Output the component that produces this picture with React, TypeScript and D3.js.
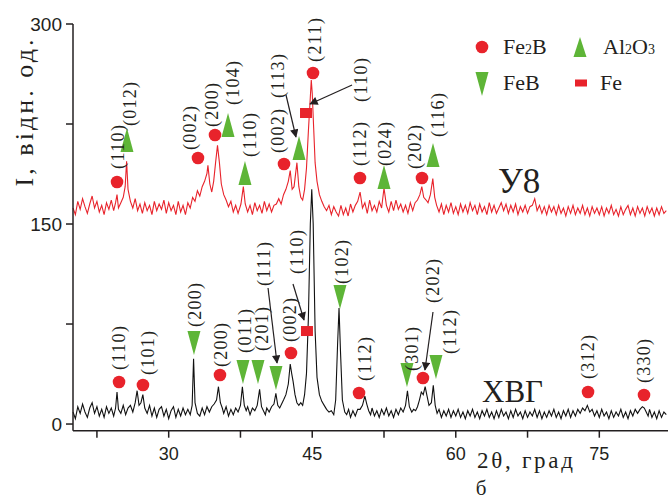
import React from 'react';
import * as d3 from 'd3';

const W = 668;
const H = 501;

// XRD scans: [2θ, I]
const y8Scan: [number, number][] = [
  [20, 162], [20.25, 157], [20.5, 167], [20.75, 161], [21, 169], [21.25, 163], [21.5, 158], [21.75, 165],
  [22, 171], [22.25, 162], [22.5, 167], [22.75, 159], [23, 164], [23.25, 157], [23.5, 166], [23.75, 161],
  [24, 168], [24.25, 160], [24.45, 166], [24.6, 172], [24.75, 162], [25, 166], [25.25, 170], [25.45, 178],
  [25.6, 197], [25.75, 176], [26, 167], [26.25, 162], [26.5, 169], [26.75, 160], [27, 165], [27.25, 158],
  [27.5, 166], [27.75, 160], [28, 164], [28.25, 157], [28.5, 167], [28.75, 160], [29, 165], [29.25, 161],
  [29.5, 168], [29.75, 158], [30, 166], [30.25, 160], [30.5, 164], [30.75, 157], [31, 167], [31.25, 159],
  [31.5, 164], [31.75, 157], [32, 166], [32.25, 162], [32.5, 170], [32.75, 167], [33, 175], [33.25, 171],
  [33.5, 178], [33.75, 182], [34, 188], [34.1, 194], [34.3, 180], [34.5, 174], [34.7, 182], [34.9, 196],
  [35.1, 209], [35.3, 196], [35.5, 180], [35.75, 172], [36, 168], [36.25, 163], [36.5, 167], [36.75, 159],
  [37, 164], [37.25, 158], [37.55, 165], [37.8, 178], [38, 165], [38.25, 159], [38.5, 164], [38.75, 157],
  [39, 166], [39.25, 160], [39.5, 164], [39.75, 158], [40, 167], [40.25, 160], [40.5, 165], [40.75, 159],
  [41, 164], [41.25, 165], [41.5, 169], [41.75, 165], [42, 172], [42.25, 176], [42.5, 182], [42.7, 190],
  [42.9, 176], [43.1, 178], [43.4, 196], [43.6, 178], [43.8, 170], [44, 168], [44.2, 176], [44.4, 192],
  [44.6, 220], [44.8, 245], [44.9, 258], [45, 248], [45.15, 222], [45.3, 196], [45.5, 182], [45.75, 172],
  [46, 167], [46.25, 163], [46.5, 160], [46.75, 164], [47, 157], [47.25, 163], [47.5, 159], [47.75, 156],
  [48, 164], [48.25, 157], [48.5, 162], [48.75, 156], [49, 165], [49.25, 159], [49.5, 164], [49.75, 167],
  [50, 174], [50.25, 162], [50.5, 166], [50.75, 158], [51, 168], [51.25, 160], [51.5, 164], [51.75, 159],
  [52, 167], [52.25, 162], [52.5, 177], [52.75, 164], [53, 159], [53.25, 167], [53.5, 160], [53.75, 168],
  [54, 161], [54.25, 165], [54.5, 159], [54.75, 164], [55, 158], [55.25, 166], [55.5, 160], [55.75, 166],
  [56, 168], [56.25, 172], [56.45, 178], [56.65, 170], [56.9, 168], [57.1, 166], [57.35, 172], [57.6, 184],
  [57.8, 170], [58, 164], [58.25, 159], [58.5, 165], [58.75, 157], [59, 164], [59.25, 159], [59.5, 166],
  [59.75, 158], [60, 163], [60.25, 157], [60.5, 165], [60.75, 159], [61, 164], [61.25, 158], [61.5, 166],
  [61.75, 160], [62, 164], [62.25, 157], [62.5, 165], [62.75, 159], [63, 163], [63.25, 157], [63.5, 166],
  [63.75, 159], [64, 164], [64.25, 158], [64.5, 162], [64.75, 166], [65, 160], [65.25, 165], [65.5, 158],
  [65.75, 164], [66, 159], [66.25, 165], [66.5, 157], [66.75, 163], [67, 159], [67.25, 164], [67.5, 158],
  [67.75, 163], [68, 164], [68.25, 169], [68.5, 160], [68.75, 164], [69, 158], [69.25, 163], [69.5, 157],
  [69.75, 164], [70, 159], [70.25, 163], [70.5, 157], [70.75, 164], [71, 158], [71.25, 162], [71.5, 156],
  [71.75, 163], [72, 158], [72.25, 164], [72.5, 157], [72.75, 162], [73, 158], [73.25, 164], [73.5, 157],
  [73.75, 162], [74, 156], [74.25, 163], [74.5, 158], [74.75, 162], [75, 157], [75.25, 163], [75.5, 156],
  [75.75, 162], [76, 158], [76.25, 164], [76.5, 157], [76.75, 161], [77, 156], [77.25, 163], [77.5, 157],
  [77.75, 161], [78, 164], [78.25, 157], [78.5, 162], [78.75, 156], [79, 163], [79.25, 158], [79.5, 162],
  [79.75, 156], [80, 163], [80.25, 158], [80.5, 162], [80.75, 156], [81, 162], [81.25, 157], [81.5, 163],
  [81.75, 158], [82, 160],
];

const khvgScan: [number, number][] = [
  [20, 9], [20.25, 4], [20.5, 13], [20.75, 8], [21, 15], [21.25, 9], [21.5, 5], [21.75, 12],
  [22, 16], [22.25, 8], [22.5, 13], [22.75, 6], [23, 11], [23.25, 5], [23.5, 13], [23.75, 8],
  [24, 12], [24.25, 6], [24.45, 12], [24.6, 24], [24.75, 11], [25, 8], [25.25, 14], [25.5, 7],
  [25.75, 12], [26, 14], [26.25, 9], [26.5, 16], [26.7, 25], [26.9, 14], [27.1, 16], [27.3, 22],
  [27.5, 12], [27.75, 8], [28, 14], [28.25, 6], [28.5, 12], [28.75, 5], [29, 11], [29.25, 13],
  [29.5, 6], [29.75, 11], [30, 4], [30.25, 10], [30.5, 13], [30.75, 5], [31, 11], [31.25, 6],
  [31.5, 12], [31.75, 7], [32, 11], [32.25, 7], [32.45, 14], [32.6, 49], [32.75, 16], [33, 8],
  [33.25, 6], [33.5, 12], [33.75, 7], [34, 13], [34.25, 9], [34.5, 13], [34.75, 15], [35, 18],
  [35.2, 28], [35.4, 16], [35.6, 12], [35.75, 8], [36, 13], [36.25, 6], [36.5, 11], [36.75, 7],
  [37, 12], [37.25, 9], [37.5, 14], [37.7, 28], [37.9, 14], [38.1, 10], [38.25, 13], [38.5, 7],
  [38.75, 12], [39, 10], [39.25, 14], [39.5, 26], [39.7, 13], [39.9, 10], [40.1, 7], [40.25, 12],
  [40.5, 9], [40.75, 13], [41, 15], [41.2, 23], [41.4, 14], [41.6, 12], [41.8, 15], [42, 18],
  [42.25, 22], [42.5, 30], [42.7, 45], [42.85, 38], [43, 32], [43.2, 22], [43.4, 16], [43.6, 14],
  [43.8, 16], [44, 14], [44.2, 22], [44.4, 38], [44.6, 80], [44.8, 150], [44.95, 176], [45.1, 150],
  [45.3, 70], [45.5, 35], [45.75, 22], [46, 17], [46.25, 14], [46.5, 11], [46.75, 9], [47, 10],
  [47.25, 7], [47.45, 18], [47.65, 60], [47.8, 87], [47.95, 55], [48.15, 18], [48.4, 9], [48.6, 7],
  [48.8, 11], [49, 5], [49.25, 10], [49.5, 6], [49.75, 11], [50, 11], [50.25, 14], [50.5, 21],
  [50.7, 15], [50.9, 10], [51.1, 7], [51.25, 12], [51.5, 6], [51.75, 10], [52, 5], [52.25, 11],
  [52.5, 7], [52.75, 12], [53, 6], [53.25, 10], [53.5, 5], [53.75, 11], [54, 7], [54.25, 12],
  [54.5, 9], [54.75, 14], [54.95, 25], [55.15, 13], [55.4, 9], [55.6, 11], [55.8, 10], [56, 13],
  [56.2, 18], [56.4, 24], [56.6, 22], [56.8, 28], [57, 21], [57.2, 14], [57.45, 16], [57.65, 29],
  [57.85, 14], [58.05, 8], [58.25, 11], [58.5, 5], [58.75, 10], [59, 6], [59.25, 11], [59.5, 5],
  [59.75, 10], [60, 6], [60.25, 11], [60.5, 5], [60.75, 9], [61, 4], [61.25, 10], [61.5, 6],
  [61.75, 11], [62, 5], [62.25, 9], [62.5, 4], [62.75, 10], [63, 6], [63.25, 11], [63.5, 5],
  [63.75, 9], [64, 4], [64.25, 10], [64.5, 5], [64.75, 11], [65, 6], [65.25, 9], [65.5, 4],
  [65.75, 10], [66, 5], [66.25, 11], [66.5, 6], [66.75, 9], [67, 4], [67.25, 10], [67.5, 5],
  [67.75, 9], [68, 6], [68.25, 11], [68.5, 5], [68.75, 10], [69, 4], [69.25, 9], [69.5, 5],
  [69.75, 10], [70, 6], [70.25, 11], [70.5, 5], [70.75, 9], [71, 4], [71.25, 10], [71.5, 6],
  [71.75, 11], [72, 5], [72.25, 10], [72.5, 6], [72.75, 11], [73, 8], [73.25, 12], [73.5, 10],
  [73.75, 14], [74, 9], [74.25, 11], [74.5, 6], [74.75, 10], [75, 5], [75.25, 11], [75.5, 6],
  [75.75, 9], [76, 4], [76.25, 10], [76.5, 5], [76.75, 9], [77, 6], [77.25, 11], [77.5, 5],
  [77.75, 9], [78, 4], [78.25, 10], [78.5, 6], [78.75, 11], [79, 8], [79.25, 11], [79.5, 13],
  [79.7, 12], [79.9, 9], [80.1, 6], [80.25, 11], [80.5, 5], [80.75, 9], [81, 4], [81.25, 10],
  [81.5, 5], [81.75, 9], [82, 7],
];

const xTickValues = [22.5, 30, 37.5, 45, 52.5, 60, 67.5, 75];
const xTickLabels = [30, 45, 60, 75];
const yTickValues = [0, 75, 150, 225, 300];
const yTickLabels = [0, 150, 300];

type Phase = 'Fe2B' | 'FeB' | 'Al2O3' | 'Fe';

// [marker 2θ, marker I, phase, hkl, label 2θ, label I]
type Peak = [number, number, Phase, string, number, number];

const y8Peaks: Peak[] = [
  [24.6, 181.5, 'Fe2B', '(110)', 24.7, 207.75],
  [25.64, 213, 'Al2O3', '(012)', 25.96, 240],
  [33.06, 199.5, 'Fe2B', '(002)', 32.23, 222],
  [34.84, 216.75, 'Fe2B', '(200)', 34.53, 239.25],
  [36.2, 224.25, 'Al2O3', '(104)', 36.72, 255.75],
  [37.97, 188.25, 'Al2O3', '(110)', 38.5, 216.75],
  [42.05, 195, 'Fe2B', '(002)', 41.42, 219.75],
  [43.62, 207, 'Al2O3', '(113)', 41.42, 261],
  [44.35, 233.25, 'Fe', '(110)', 50.1, 258],
  [45.08, 263.25, 'Fe2B', '(211)', 45.29, 288],
  [49.99, 184.5, 'Fe2B', '(112)', 49.99, 210],
  [52.5, 185.25, 'Al2O3', '(024)', 52.6, 210],
  [56.47, 184.5, 'Fe2B', '(202)', 55.74, 207.75],
  [57.62, 201.75, 'Al2O3', '(116)', 58.14, 231.75],
];

const khvgPeaks: Peak[] = [
  [24.81, 31.5, 'Fe2B', '(110)', 24.81, 57],
  [27.31, 29.25, 'Fe2B', '(101)', 27.84, 53.25],
  [32.64, 60.75, 'FeB', '(200)', 32.75, 89.25],
  [35.36, 36.75, 'Fe2B', '(200)', 35.47, 59.25],
  [37.76, 39, 'FeB', '(011)', 37.97, 69.75],
  [39.33, 39, 'FeB', '(201)', 39.75, 71.25],
  [41.21, 34.5, 'FeB', '(111)', 39.96, 120],
  [42.78, 53.25, 'Fe2B', '(002)', 42.68, 78],
  [44.45, 69.75, 'Fe', '(110)', 43.41, 129],
  [47.9, 95.25, 'FeB', '(102)', 48.11, 121.5],
  [49.89, 23.25, 'Fe2B', '(112)', 50.51, 48.75],
  [54.9, 36.75, 'FeB', '(301)', 55.43, 56.25],
  [56.57, 34.5, 'Fe2B', '(202)', 57.62, 107.25],
  [57.93, 42.75, 'FeB', '(112)', 59.4, 69],
  [73.82, 24, 'Fe2B', '(312)', 73.82, 50.25],
  [79.67, 21.75, 'Fe2B', '(330)', 79.67, 47.25],
];

// leader arrows [from 2θ, from I, to 2θ, to I]
const arrows: [number, number, number, number][] = [
  [42.26, 246.75, 43.3, 215.25],
  [49.16, 254.25, 44.77, 240],
  [40.38, 102, 41.32, 45.75],
  [42.99, 105, 44.14, 78],
  [57.62, 84, 56.78, 40.5],
];

const RED = '#e8232b';
const GREEN = '#5eb537';
const INK = '#231f20';
const SERIF = '"Liberation Serif", "Times New Roman", serif';
const SANS = '"Liberation Sans", Arial, sans-serif';

function Marker({ phase, x, y, legend = false }: { phase: Phase; x: number; y: number; legend?: boolean }) {
  const h = legend ? 10 : 12;
  if (phase === 'Fe2B') return <circle cx={x} cy={y} r={6.3} fill={RED} />;
  if (phase === 'Fe') {
    const sh = legend ? 7 : 10;
    return <rect x={x - 6} y={y - sh / 2} width={12} height={sh} fill={RED} />;
  }
  if (phase === 'Al2O3')
    return <polygon points={`${x},${y - h} ${x + 6.5},${y + h} ${x - 6.5},${y + h}`} fill={GREEN} />;
  return <polygon points={`${x - 6.5},${y - 12} ${x + 6.5},${y - 12} ${x},${y + 12}`} fill={GREEN} />;
}

export default function App() {
  const x = d3.scaleLinear().domain([20, 82]).range([73, 666.3]);
  const y = d3.scaleLinear().domain([-5, 300]).range([430.7, 24]);
  const line = d3
    .line<[number, number]>()
    .x((d) => x(d[0]))
    .y((d) => y(d[1]));

  const peakLabel = (p: Peak, i: number, key: string) => {
    const cx = x(p[4]);
    const cy = y(p[5]);
    return (
      <text
        key={key + i}
        x={cx}
        y={cy}
        transform={`rotate(-90, ${cx}, ${cy})`}
        textAnchor="middle"
        dominantBaseline="central"
        fontFamily={SERIF}
        fontSize={18}
        textLength={44}
        lengthAdjust="spacing"
        fill={INK}
      >
        {p[3]}
      </text>
    );
  };

  return (
    <svg width={W} height={H} style={{ position: 'absolute', left: 0, top: 0, background: '#fff' }}>
      <defs>
        <marker id="ah" viewBox="0 0 10 10" refX="9" refY="5" markerWidth="8" markerHeight="7" orient="auto">
          <path d="M0,0 L10,5 L0,10 z" fill={INK} />
        </marker>
      </defs>

      {/* scans */}
      <path d={line(khvgScan) ?? ''} fill="none" stroke="#111" strokeWidth={1.1} />
      <path d={line(y8Scan) ?? ''} fill="none" stroke={RED} strokeWidth={1.1} />

      {/* axes */}
      <line x1={73} x2={73} y1={y(300)} y2={y(-5)} stroke={INK} strokeWidth={1.5} />
      <line x1={73} x2={W} y1={y(-5)} y2={y(-5)} stroke={INK} strokeWidth={1.5} />
      {yTickValues.map((v) => (
        <line key={'yt' + v} x1={66} x2={73} y1={y(v)} y2={y(v)} stroke={INK} strokeWidth={1.5} />
      ))}
      {yTickLabels.map((v) => (
        <text key={'yl' + v} x={62} y={y(v)} textAnchor="end" dominantBaseline="central" fontFamily={SANS} fontSize={19} fill={INK}>
          {v}
        </text>
      ))}
      {xTickValues.map((v) => (
        <line key={'xt' + v} x1={x(v)} x2={x(v)} y1={y(-5)} y2={y(-5) + 7} stroke={INK} strokeWidth={1.5} />
      ))}
      {xTickLabels.map((v) => (
        <text key={'xl' + v} x={x(v)} y={460} textAnchor="middle" fontFamily={SANS} fontSize={18} fill={INK}>
          {v}
        </text>
      ))}

      <text
        x={24}
        y={113}
        transform="rotate(-90, 24, 113)"
        textAnchor="middle"
        dominantBaseline="central"
        fontFamily={SERIF}
        fontSize={26}
        textLength={147}
        lengthAdjust="spacing"
        fill={INK}
      >
        I, відн. од.
      </text>
      <text x={477} y={468} fontFamily={SERIF} fontSize={23} textLength={96} lengthAdjust="spacing" fill={INK}>
        2θ, град
      </text>
      <text x={481} y={495} textAnchor="middle" fontFamily={SERIF} fontSize={21} fill={INK}>
        б
      </text>

      {/* series names */}
      <text x={498} y={193} fontFamily={SERIF} fontSize={35} fill={INK}>
        У8
      </text>
      <text x={482} y={402} fontFamily={SERIF} fontSize={31} fill={INK}>
        ХВГ
      </text>

      {/* arrows */}
      {arrows.map((a, i) => (
        <line
          key={'ar' + i}
          x1={x(a[0])}
          y1={y(a[1])}
          x2={x(a[2])}
          y2={y(a[3])}
          stroke={INK}
          strokeWidth={1.2}
          markerEnd="url(#ah)"
        />
      ))}

      {/* peak markers and labels */}
      {y8Peaks.map((p, i) => (
        <Marker key={'ym' + i} phase={p[2]} x={x(p[0])} y={y(p[1])} />
      ))}
      {khvgPeaks.map((p, i) => (
        <Marker key={'km' + i} phase={p[2]} x={x(p[0])} y={y(p[1])} />
      ))}
      {y8Peaks.map((p, i) => peakLabel(p, i, 'yl'))}
      {khvgPeaks.map((p, i) => peakLabel(p, i, 'kl'))}

      {/* legend */}
      <Marker phase="Fe2B" x={482} y={47} legend />
      <text x={503} y={54} fontFamily={SERIF} fontSize={22} fill={INK}>
        Fe<tspan fontSize={14}>2</tspan>B
      </text>
      <Marker phase="Al2O3" x={580} y={47} legend />
      <text x={603} y={54} fontFamily={SERIF} fontSize={22} fill={INK}>
        Al<tspan fontSize={14}>2</tspan>O<tspan fontSize={14}>3</tspan>
      </text>
      <Marker phase="FeB" x={482} y={84} legend />
      <text x={503} y={90} fontFamily={SERIF} fontSize={22} fill={INK}>
        FeB
      </text>
      <Marker phase="Fe" x={581} y={83} legend />
      <text x={600} y={90} fontFamily={SERIF} fontSize={22} fill={INK}>
        Fe
      </text>
    </svg>
  );
}
